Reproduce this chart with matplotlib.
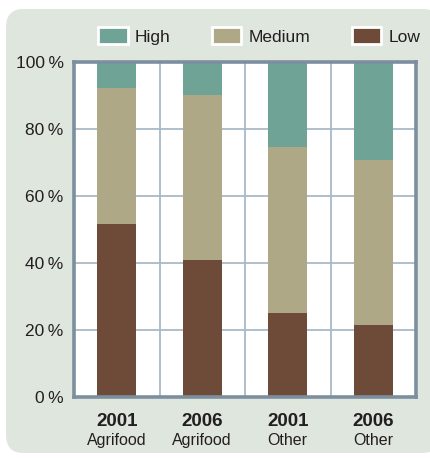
import matplotlib
matplotlib.use('Agg')
import numpy as np
from matplotlib import pyplot as plt
from matplotlib.patches import FancyBboxPatch, Patch

# Data (shares in %)
years = ['2001', '2006', '2001', '2006']
sectors = ['Agrifood', 'Agrifood', 'Other', 'Other']
low = [51.6, 40.8, 25.0, 21.4]
medium = [40.5, 49.2, 49.5, 49.3]
high = [7.9, 10.0, 25.5, 29.3]
yticks = [0, 20, 40, 60, 80, 100]

# Style
c_high = '#6ea396'
c_med = '#afa886'
c_low = '#6e4a39'
c_panel = '#dfe6dd'
c_frame = '#7c8f9f'
c_grid = '#a9bac6'
c_text = '#231f20'

plt.rcParams['font.family'] = ['Liberation Sans Narrow', 'Liberation Sans', 'DejaVu Sans']

fig = plt.figure(figsize=(4.3, 4.58), dpi=100)
fig.patch.set_facecolor('white')

# rounded background panel
panel = FancyBboxPatch((6 / 430, (458 - 453) / 458), (440 - 6) / 430, (453 - 9) / 458,
                       boxstyle='round,pad=0,rounding_size=0.04',
                       transform=fig.transFigure, facecolor=c_panel, edgecolor='none',
                       zorder=-5)
fig.patches.append(panel)

ax = fig.add_axes([74 / 430, 1 - 396.7 / 458, 342 / 430, 335 / 458])
ax.set_zorder(2)
ax.set_facecolor('white')

x = np.arange(len(years))
w = 0.46
ax.bar(x, low, w, color=c_low, zorder=3)
ax.bar(x, medium, w, bottom=low, color=c_med, zorder=3)
ax.bar(x, high, w, bottom=np.add(low, medium), color=c_high, zorder=3)

ax.set_xlim(-0.5, len(years) - 0.5)
ax.set_ylim(0, 100)

# grid: vertical lines between categories, horizontal at every tick
for xb in x[:-1] + 0.5:
    ax.axvline(xb, color=c_grid, lw=1.3, zorder=1)
for yt in yticks[1:-1]:
    ax.axhline(yt, color=c_grid, lw=1.3, zorder=1)

ax.set_yticks(yticks)
ax.set_yticklabels([f'{v}\u2009%' for v in yticks], fontsize=12.5, color=c_text)
ax.set_xticks([])
ax.tick_params(axis='y', length=0, pad=7.5)

for s in ax.spines.values():
    s.set_color(c_frame)
    s.set_linewidth(2.6)
    s.set_zorder(5)

for xi, yr, sec in zip(x, years, sectors):
    ax.text(xi, -0.075, yr, transform=ax.get_xaxis_transform(), ha='center', va='center',
            fontsize=13.5, fontweight='bold', color=c_text)
    ax.text(xi, -0.131, sec, transform=ax.get_xaxis_transform(), ha='center', va='center',
            fontsize=11.5, color=c_text)

handles = [Patch(facecolor=c_high, edgecolor='white', linewidth=2, label='High'),
           Patch(facecolor=c_med, edgecolor='white', linewidth=2, label='Medium'),
           Patch(facecolor=c_low, edgecolor='white', linewidth=2, label='Low')]
fig.legend(handles=handles, loc='center left', bbox_to_anchor=(98 / 430, 1 - 36 / 458), ncol=3,
           frameon=False, fontsize=12.5, handlelength=1.7, handleheight=1.15,
           handletextpad=0.4, columnspacing=2.4, labelcolor=c_text, borderpad=0,
           borderaxespad=0)

fig.savefig('out.png', dpi=100, facecolor='white')
